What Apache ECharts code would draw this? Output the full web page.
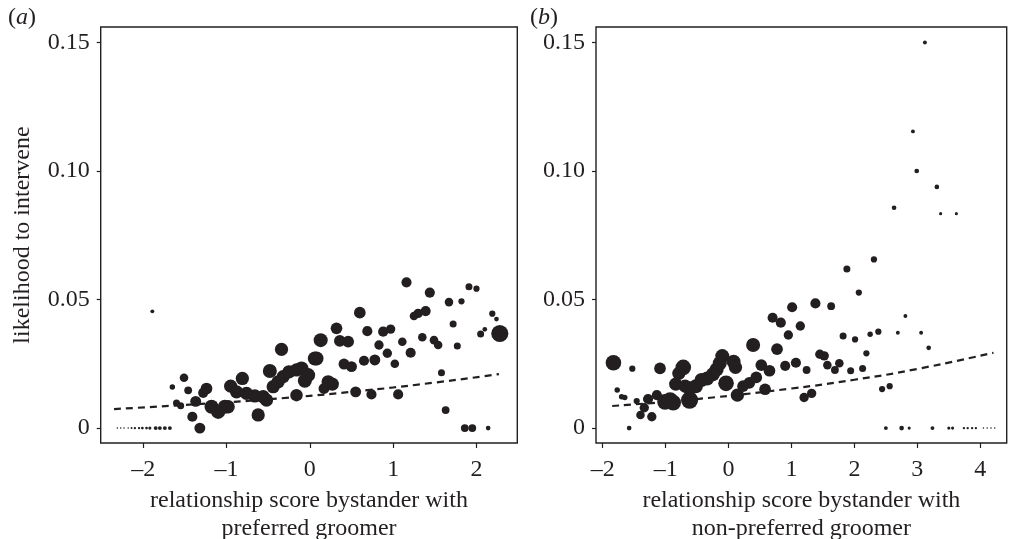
<!DOCTYPE html>
<html>
<head>
<meta charset="utf-8">
<script src="https://cdn.jsdelivr.net/npm/echarts@6/dist/echarts.min.js"></script>
<style>html,body{margin:0;padding:0;background:#fff;}#c{width:1010px;height:539px;}</style>
</head>
<body>
<div id="c"></div>
<script>
// Panel (a): [relationship score with preferred groomer, likelihood, weight]
var pointsA = [
[-2.31,0,2],[-2.27,0,2],[-2.23,0,2],[-2.18,0,2],[-2.14,0,2.5],[-2.10,0,3],[-2.05,0,3],[-2.01,0,3.5],[-1.96,0,3.5],[-1.92,0,4],
[-1.85,0,5],[-1.80,0,5],[-1.74,0,5],[-1.68,0,5],
[-1.89,0.0454,5],[-1.65,0.016,7],[-1.51,0.0196,11],[-1.46,0.0147,10],[-1.60,0.0098,9],[-1.55,0.0087,9],
[-1.37,0.0104,14],[-1.41,0.0044,13],[-1.32,0,14],[-1.24,0.0154,15],[-1.28,0.0137,13],
[-1.18,0.0083,18],[-1.10,0.0063,18],[-1.02,0.0083,18],[-0.98,0.0083,17],[-0.81,0.0193,17],
[-0.95,0.0163,17],[-0.88,0.0141,17],[-0.76,0.0135,17],[-0.66,0.0125,17],[-0.56,0.0122,17],[-0.52,0.0109,17],
[-0.62,0.0051,17],[-0.48,0.0222,18],[-0.34,0.0306,17],[-0.44,0.0161,17],[-0.38,0.018,17],[-0.32,0.020,17],
[-0.25,0.0219,17],[-0.16,0.0226,17],[-0.16,0.0128,16],[-0.10,0.0232,18],[-0.02,0.0206,18],[-0.06,0.0184,18],
[0.06,0.0271,18],[0.08,0.0271,18],[0.13,0.0342,18],[0.32,0.0388,15],[0.60,0.0449,15],[0.36,0.0339,15],
[0.46,0.0336,15],[0.41,0.0249,14],[0.50,0.0239,14],[0.22,0.018,17],[0.27,0.0171,17],[0.17,0.0154,14],
[0.55,0.0141,14],[0.74,0.0131,13],[1.06,0.0131,13],[0.69,0.0377,13],[0.88,0.0375,13],[0.97,0.0385,12],
[0.83,0.0323,12],[0.65,0.0262,13],[0.78,0.0265,14],[0.93,0.0291,12],[1.02,0.025,11],[1.11,0.0336,11],
[1.21,0.0293,13],[1.16,0.0567,13],[1.44,0.0527,13],[1.25,0.0436,11],[1.30,0.0446,12],[1.39,0.0455,13],
[1.35,0.0353,11],[1.49,0.0342,11],[1.54,0.0323,11],[1.58,0.0215,9],[1.63,0.007,10],[1.67,0.049,11],
[1.82,0.0493,8],[1.72,0.0405,9],[1.77,0.0319,9],[1.91,0.055,9],[2.00,0.0542,8],[2.19,0.0445,8],
[2.24,0.0424,6],[2.05,0.0366,9],[2.10,0.0384,6],[2.28,0.0368,22],
[1.86,0,10],[1.95,0,10],[2.14,0,6]
];
// Panel (b): [relationship score with non-preferred groomer, likelihood, weight]
var pointsB = [
[-1.83,0.0254,20],[-1.53,0.0231,8],[-1.77,0.0148,7],[-1.70,0.0122,7],[-1.65,0.0119,7],[-1.46,0.0105,8],
[-1.58,0,6],[-1.40,0.0051,11],[-1.22,0.0044,12],[-1.34,0.0079,12],[-1.28,0.0113,13],[-1.14,0.0128,13],
[-1.09,0.0232,15],[-1.01,0.0102,20],[-0.93,0.0109,20],[-0.88,0.0099,20],[-0.62,0.0109,22],[-0.72,0.0236,20],
[-0.79,0.0213,17],[-0.84,0.0171,17],[-0.69,0.0163,17],[-0.62,0.0154,18],[-0.52,0.0163,18],[-0.43,0.0187,18],
[-0.34,0.0193,18],[-0.25,0.0209,18],[-0.19,0.0228,18],[-0.10,0.028,18],[-0.14,0.0252,18],[0.08,0.0258,18],
[0.11,0.0236,17],[-0.04,0.0174,20],[0.14,0.0128,17],[0.23,0.0163,15],[0.33,0.0176,15],[0.44,0.0197,15],
[0.39,0.0323,18],[0.52,0.0245,15],[0.65,0.0223,15],[0.58,0.0151,15],[0.70,0.0429,13],[0.83,0.041,13],
[1.01,0.047,13],[1.14,0.0397,12],[0.95,0.0362,12],[0.77,0.0307,15],[0.90,0.0242,13],[1.07,0.0254,13],
[1.24,0.0226,10],[1.20,0.0119,12],[1.32,0.0135,12],[1.38,0.0485,13],[1.63,0.0474,10],[1.45,0.0287,12],
[1.52,0.0281,12],[1.57,0.0245,11],[1.69,0.0226,10],[1.76,0.0252,11],[1.94,0.0223,9],[1.82,0.0358,9],
[2.01,0.0345,8],[2.13,0.0232,9],[2.19,0.0291,8],[2.25,0.0365,7],[2.38,0.0375,8],[1.88,0.0619,9],
[2.31,0.0656,8],[2.07,0.0527,8],[2.44,0.0152,8],[2.56,0.0163,8],[2.69,0.0371,5],[2.81,0.0436,5],
[3.06,0.0371,5],[3.18,0.0312,6],[2.63,0.0857,6],[2.93,0.1154,5],[2.99,0.100,6],[3.12,0.150,5],
[3.31,0.0938,6],[3.37,0.0834,4],[3.62,0.0834,4],
[2.50,0,5],[2.75,0,6],[2.87,0,4],[3.24,0,5],[3.50,0,4],[3.56,0,4],[3.74,0,3],[3.80,0,3],[3.87,0,3],[3.93,0,3],
[4.05,0,2],[4.11,0,2],[4.17,0,2],[4.23,0,2]
];
// Fitted (dashed) curves
var fitA = [[-2.35,0.0074],[-1.5,0.0090],[-0.5,0.0112],[0.5,0.0141],[1.5,0.0177],[2.27,0.0210]];
var fitB = [[-1.85,0.0086],[-0.5,0.0113],[1.0,0.0154],[2.0,0.0188],[3.0,0.0230],[4.21,0.0293]];
var yTicks = [0, 0.05, 0.10, 0.15];
var xTicksA = [-2, -1, 0, 1, 2];
var xTicksB = [-2, -1, 0, 1, 2, 3, 4];

var INK = '#231f20';
var FONT = '"Liberation Serif", "DejaVu Serif", serif';
function fmtY(v){ return v === 0 ? '0' : v.toFixed(2); }
function fmtX(v){ return v < 0 ? '\u2013' + Math.abs(v) : String(v); }

function xAxis(idx, min, max, ticks, name){
  return {
    type: 'value', gridIndex: idx, min: min, max: max, position: 'bottom',
    name: name, nameLocation: 'middle', nameGap: 27,
    nameTextStyle: {fontFamily: FONT, fontSize: 24, color: INK, lineHeight: 28, verticalAlign: 'top'},
    axisLine: {show: false, onZero: false},
    axisTick: {show: true, length: 5, inside: false, customValues: ticks, lineStyle: {color: INK, width: 1.2}},
    axisLabel: {customValues: ticks, formatter: fmtX, fontFamily: FONT, fontSize: 24, color: INK, margin: 15},
    splitLine: {show: false}
  };
}
function yAxis(idx, name){
  return {
    type: 'value', gridIndex: idx, min: -0.0058, max: 0.156, position: 'left',
    name: name, nameLocation: 'middle', nameGap: 66,
    nameTextStyle: {fontFamily: FONT, fontSize: 24, color: INK},
    axisLine: {show: false, onZero: false},
    axisTick: {show: true, length: 4, customValues: yTicks, lineStyle: {color: INK, width: 1.2}},
    axisLabel: {customValues: yTicks, formatter: fmtY, fontFamily: FONT, fontSize: 24, color: INK, margin: 11},
    splitLine: {show: false}
  };
}
function sizeOf(d){ return d[2] * 0.78; }

var chart = echarts.init(document.getElementById('c'), null, {renderer: 'canvas'});
chart.setOption({
  backgroundColor: '#fff',
  animation: false,
  grid: [
    {left: 100.7, top: 27, width: 416.6, height: 416, show: true, borderColor: INK, borderWidth: 1.4, backgroundColor: 'transparent', containLabel: false, outerBoundsMode: 'none'},
    {left: 596, top: 27, width: 410.7, height: 416, show: true, borderColor: INK, borderWidth: 1.4, backgroundColor: 'transparent', containLabel: false, outerBoundsMode: 'none'}
  ],
  xAxis: [
    xAxis(0, -2.51, 2.49, xTicksA, 'relationship score bystander with\npreferred groomer'),
    xAxis(1, -2.107, 4.42, xTicksB, 'relationship score bystander with\nnon-preferred groomer')
  ],
  yAxis: [ yAxis(0, 'likelihood to intervene'), yAxis(1, '') ],
  series: [
    {type: 'scatter', xAxisIndex: 0, yAxisIndex: 0, data: pointsA, symbolSize: sizeOf, itemStyle: {color: INK, opacity: 1}},
    {type: 'line', xAxisIndex: 0, yAxisIndex: 0, data: fitA, smooth: true, showSymbol: false, symbol: 'none', lineStyle: {color: INK, width: 2.2, type: [7, 5]}},
    {type: 'scatter', xAxisIndex: 1, yAxisIndex: 1, data: pointsB, symbolSize: sizeOf, itemStyle: {color: INK, opacity: 1}},
    {type: 'line', xAxisIndex: 1, yAxisIndex: 1, data: fitB, smooth: true, showSymbol: false, symbol: 'none', lineStyle: {color: INK, width: 2.2, type: [7, 5]}}
  ],
  graphic: [
    {type: 'text', left: 8, top: 6, style: {text: '{n|(}{i|a}{n|)}', rich: {n: {fontFamily: FONT, fontSize: 24, fill: INK}, i: {fontFamily: FONT, fontSize: 24, fontStyle: 'italic', fill: INK}}}},
    {type: 'text', left: 530, top: 6, style: {text: '{n|(}{i|b}{n|)}', rich: {n: {fontFamily: FONT, fontSize: 24, fill: INK}, i: {fontFamily: FONT, fontSize: 24, fontStyle: 'italic', fill: INK}}}}
  ]
});
</script>
</body>
</html>
